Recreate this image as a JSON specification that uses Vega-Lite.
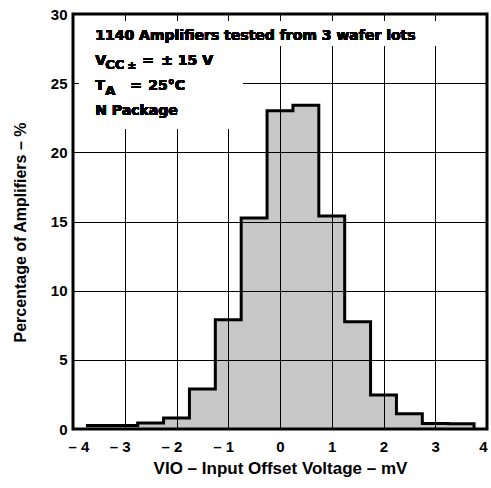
{
  "$schema": "https://vega.github.io/schema/vega-lite/v6.json",
  "width": 414,
  "height": 415,
  "autosize": "none",
  "padding": {"left": 73, "top": 14, "right": 4, "bottom": 59},
  "background": "white",
  "config": {
    "view": {"stroke": "black", "strokeWidth": 3},
    "font": "Liberation Sans",
    "axis": {
      "grid": true,
      "gridColor": "black",
      "gridWidth": 1,
      "gridOpacity": 1,
      "ticks": false,
      "domain": false,
      "labelFont": "Liberation Sans",
      "labelFontWeight": "bold",
      "labelFontSize": 15,
      "labelColor": "black",
      "titleFont": "Liberation Sans",
      "titleFontWeight": "bold",
      "titleColor": "black"
    }
  },
  "data": {
    "values": [
      {"lo": -3.75, "pct": 0.25},
      {"lo": -3.25, "pct": 0.25},
      {"lo": -2.75, "pct": 0.43},
      {"lo": -2.25, "pct": 0.8},
      {"lo": -1.75, "pct": 2.9},
      {"lo": -1.25, "pct": 7.9},
      {"lo": -0.75, "pct": 15.25},
      {"lo": -0.25, "pct": 23.0},
      {"lo": 0.25, "pct": 23.4},
      {"lo": 0.75, "pct": 15.4},
      {"lo": 1.25, "pct": 7.75},
      {"lo": 1.75, "pct": 2.45},
      {"lo": 2.25, "pct": 1.1},
      {"lo": 2.75, "pct": 0.4},
      {"lo": 3.25, "pct": 0.38},
      {"lo": 3.75, "pct": 0}
    ]
  },
  "layer": [
    {
      "mark": {
        "type": "area",
        "interpolate": "step-after",
        "color": "black",
        "fillOpacity": 0.22,
        "line": {"color": "black", "strokeWidth": 3}
      },
      "encoding": {
        "x": {
          "field": "lo",
          "type": "quantitative",
          "scale": {"domain": [-4, 4], "nice": false, "zero": false},
          "axis": {
            "values": [-4, -3, -2, -1, 0, 1, 2, 3, 4],
            "labelExpr": "datum.value < 0 ? '– ' + abs(datum.value) : datum.label",
            "labelOffset": {"condition": {"test": "datum.value < 0", "value": -5}, "value": 0},
            "labelPadding": 10,
            "title": "VIO – Input Offset Voltage – mV",
            "titleFontSize": 17,
            "titlePadding": 6
          }
        },
        "y": {
          "field": "pct",
          "type": "quantitative",
          "stack": null,
          "scale": {"domain": [0, 30], "nice": false},
          "axis": {
            "values": [0, 5, 10, 15, 20, 25, 30],
            "labelPadding": 6,
            "title": "Percentage of Amplifiers – %",
            "titleFontSize": 16,
            "titleY": 218,
            "titlePadding": 22
          }
        }
      }
    },
    {
      "mark": {"type": "rect", "fill": "white"},
      "encoding": {
        "x": {"datum": -3.87},
        "x2": {"datum": 3.12},
        "y": {"datum": 29.45},
        "y2": {"datum": 27.75}
      }
    },
    {
      "mark": {"type": "rect", "fill": "white"},
      "encoding": {
        "x": {"datum": -3.87},
        "x2": {"datum": -0.72},
        "y": {"datum": 27.8},
        "y2": {"datum": 21.7}
      }
    },
    {
      "mark": {"type": "text", "text": "1140 Amplifiers tested from 3 wafer lots", "align": "left", "baseline": "alphabetic", "font": "DejaVu Sans", "fontSize": 14, "fontWeight": "bold", "color": "black"},
      "encoding": {"x": {"datum": -3.57}, "y": {"datum": 28.1}}
    },
    {
      "mark": {"type": "text", "text": "V", "align": "left", "baseline": "alphabetic", "font": "DejaVu Sans", "fontSize": 14, "fontWeight": "bold", "color": "black"},
      "encoding": {"x": {"datum": -3.57}, "y": {"datum": 26.3}}
    },
    {
      "mark": {"type": "text", "text": "CC", "align": "left", "baseline": "alphabetic", "dx": 10, "dy": 4, "font": "DejaVu Sans", "fontSize": 13, "fontWeight": "bold", "color": "black"},
      "encoding": {"x": {"datum": -3.57}, "y": {"datum": 26.3}}
    },
    {
      "mark": {"type": "text", "text": "±", "align": "left", "baseline": "alphabetic", "dx": 32, "dy": 4, "font": "DejaVu Sans", "fontSize": 11, "fontWeight": "bold", "color": "black"},
      "encoding": {"x": {"datum": -3.57}, "y": {"datum": 26.3}}
    },
    {
      "mark": {"type": "text", "text": "=", "align": "left", "baseline": "alphabetic", "dx": 47, "font": "DejaVu Sans", "fontSize": 14, "fontWeight": "bold", "color": "black"},
      "encoding": {"x": {"datum": -3.57}, "y": {"datum": 26.3}}
    },
    {
      "mark": {"type": "text", "text": "± 15 V", "align": "left", "baseline": "alphabetic", "dx": 66, "font": "DejaVu Sans", "fontSize": 14, "fontWeight": "bold", "color": "black"},
      "encoding": {"x": {"datum": -3.57}, "y": {"datum": 26.3}}
    },
    {
      "mark": {"type": "text", "text": "T", "align": "left", "baseline": "alphabetic", "font": "DejaVu Sans", "fontSize": 14, "fontWeight": "bold", "color": "black"},
      "encoding": {"x": {"datum": -3.57}, "y": {"datum": 24.5}}
    },
    {
      "mark": {"type": "text", "text": "A", "align": "left", "baseline": "alphabetic", "dx": 10, "dy": 5, "font": "DejaVu Sans", "fontSize": 13, "fontWeight": "bold", "color": "black"},
      "encoding": {"x": {"datum": -3.57}, "y": {"datum": 24.5}}
    },
    {
      "mark": {"type": "text", "text": "=", "align": "left", "baseline": "alphabetic", "dx": 35, "font": "DejaVu Sans", "fontSize": 14, "fontWeight": "bold", "color": "black"},
      "encoding": {"x": {"datum": -3.57}, "y": {"datum": 24.5}}
    },
    {
      "mark": {"type": "text", "text": "25°C", "align": "left", "baseline": "alphabetic", "dx": 53, "font": "DejaVu Sans", "fontSize": 14, "fontWeight": "bold", "color": "black"},
      "encoding": {"x": {"datum": -3.57}, "y": {"datum": 24.5}}
    },
    {
      "mark": {"type": "text", "text": "N Package", "align": "left", "baseline": "alphabetic", "font": "DejaVu Sans", "fontSize": 14, "fontWeight": "bold", "color": "black"},
      "encoding": {"x": {"datum": -3.57}, "y": {"datum": 22.7}}
    }
  ]
}
